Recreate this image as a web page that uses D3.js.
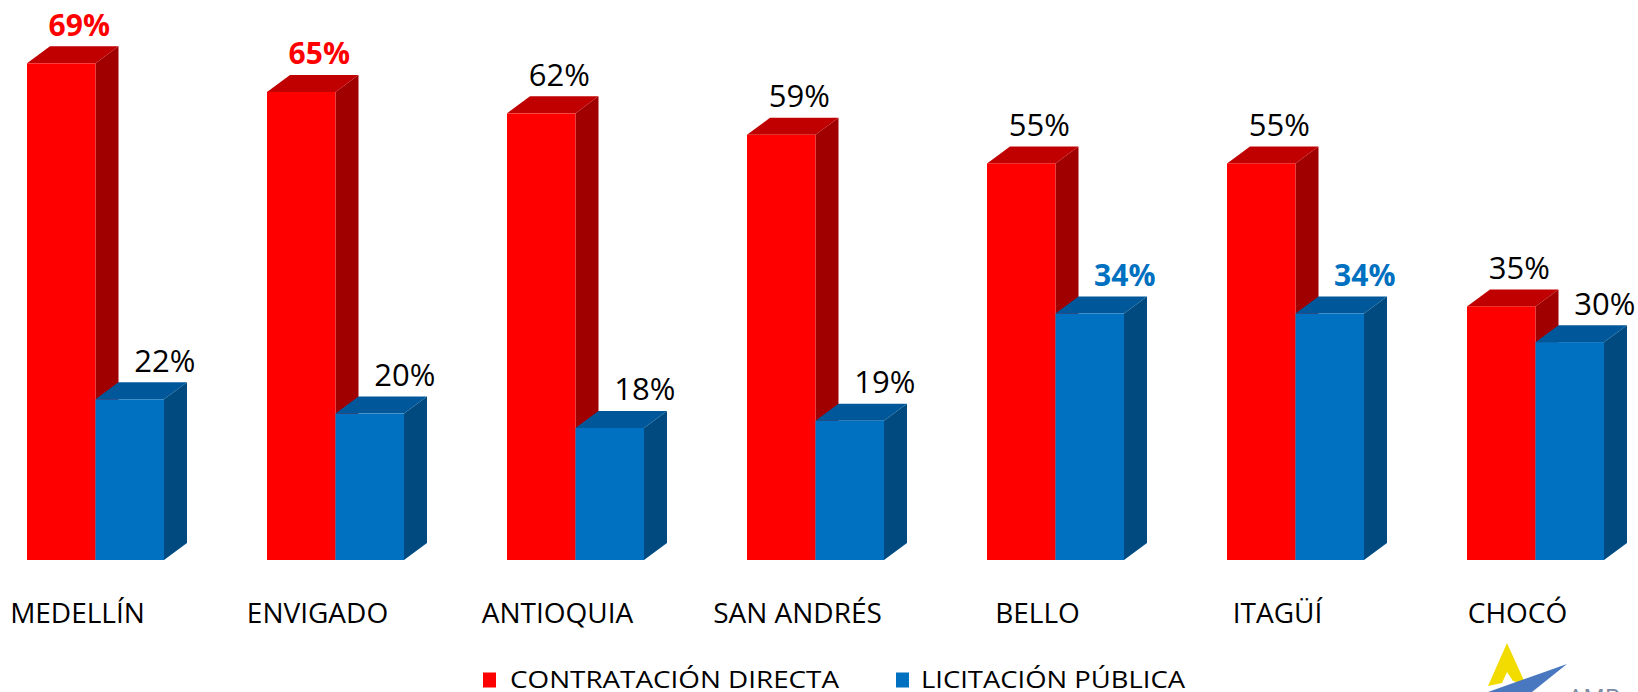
<!DOCTYPE html>
<html>
<head>
<meta charset="utf-8">
<script src="https://cdn.jsdelivr.net/npm/d3@7"></script>
<style>
  html, body { margin: 0; padding: 0; background: #fff; }
  svg { display: block; font-family: "Open Sans", sans-serif; }
</style>
</head>
<body>
<div class="content-container"></div>
<script>
// data
const categories = ["MEDELLÍN", "ENVIGADO", "ANTIOQUIA", "SAN ANDRÉS", "BELLO", "ITAGÜÍ", "CHOCÓ"];
const seriesNames = ["CONTRATACIÓN DIRECTA", "LICITACIÓN PÚBLICA"];
const directa = [69, 65, 62, 59, 55, 55, 35];
const licitacion = [22, 20, 18, 19, 34, 34, 30];

const width = 1638;
const height = 692;
const floorY = 560;   // bottom edge of the bars
const depthX = 23;    // 3d offset
const depthY = 17;

// colours: front, top, side
const colors = [
  { front: "#ff0000", top: "#c00000", side: "#a00000", label: "#ff0000" },
  { front: "#0070c0", top: "#00589a", side: "#004a80", label: "#0070c0" }
];

const dataset = categories.map((c, i) => ({ cat: c, values: [directa[i], licitacion[i]] }));

const svg = d3.select(".content-container")
  .append("svg")
  .attr("width", width)
  .attr("height", height);

// SCALES
const xScale = d3.scaleBand()
  .domain(categories)
  .range([27, 27 + categories.length * 240])
  .padding(0);

const xInner = d3.scaleBand()
  .domain([0, 1])
  .range([0, 137]);

const yScale = d3.scaleLinear()
  .domain([0, 70])
  .range([556.6, 556.6 - 70 * 7.149]);

// top two values of each series get a bold coloured label
const topTwo = [directa, licitacion].map(arr => arr.slice().sort((a, b) => b - a).slice(0, 2));

// BARS
const groups = svg.selectAll("g.group")
  .data(dataset)
  .enter()
  .append("g")
  .attr("class", "group");

groups.each(function(d) {
  const g = d3.select(this);
  d.values.forEach(function(v, s) {
    const x = xScale(d.cat) + xInner(s);
    const w = xInner.bandwidth();
    const top = yScale(v);
    const col = colors[s];

    // side face
    g.append("path")
      .attr("d", "M" + (x + w) + "," + top +
        " L" + (x + w + depthX) + "," + (top - depthY) +
        " L" + (x + w + depthX) + "," + (floorY - depthY) +
        " L" + (x + w) + "," + floorY + " Z")
      .attr("fill", col.side);

    // top face
    g.append("path")
      .attr("d", "M" + x + "," + top +
        " L" + (x + depthX) + "," + (top - depthY) +
        " L" + (x + w + depthX) + "," + (top - depthY) +
        " L" + (x + w) + "," + top + " Z")
      .attr("fill", col.top);

    // front face
    g.append("rect")
      .attr("x", x)
      .attr("y", top)
      .attr("width", w)
      .attr("height", floorY - top)
      .attr("fill", col.front);

    // value label
    const highlight = topTwo[s].indexOf(v) >= 0;
    g.append("text")
      .attr("x", x + w / 2 + (s === 0 ? 18 : 35))
      .attr("y", top - depthY - 10.5)
      .attr("text-anchor", "middle")
      .attr("font-size", highlight ? "30px" : "31px")
      .attr("font-weight", highlight ? "bold" : "normal")
      .attr("fill", highlight ? col.label : "#000")
      .text(v + "%");
  });
});

// CATEGORY LABELS
svg.selectAll("text.cat")
  .data(categories)
  .enter()
  .append("text")
  .attr("class", "cat")
  .attr("x", d => xScale(d) + 137 / 2 - 18)
  .attr("y", 623)
  .attr("text-anchor", "middle")
  .attr("font-size", "28px")
  .attr("fill", "#000")
  .text(d => d);

// LEGEND
const legendItems = [
  { x: 483, textX: 510, len: 329 },
  { x: 896, textX: 921, len: 264 }
];

legendItems.forEach(function(it, i) {
  svg.append("rect")
    .attr("x", it.x)
    .attr("y", 672.5)
    .attr("width", 13)
    .attr("height", 15)
    .attr("fill", colors[i].front);

  svg.append("text")
    .attr("x", it.textX)
    .attr("y", 687.5)
    .attr("font-size", "24.5px")
    .attr("textLength", it.len)
    .attr("lengthAdjust", "spacingAndGlyphs")
    .attr("fill", "#000")
    .text(seriesNames[i]);
});

// LOGO (cut off at bottom right)
svg.append("path")
  .attr("d", "M1507,643 L1526,685 L1513,681 L1507,672 L1502,683 L1488,686 Z")
  .attr("fill", "#f2dc00");

svg.append("path")
  .attr("d", "M1567,664 L1488,692 L1532,692 Z")
  .attr("fill", "#4a78c0");

svg.append("text")
  .attr("x", 1568)
  .attr("y", 706)
  .attr("font-size", "24px")
  .attr("fill", "#7a8aa0")
  .text("AMB");
</script>
</body>
</html>
